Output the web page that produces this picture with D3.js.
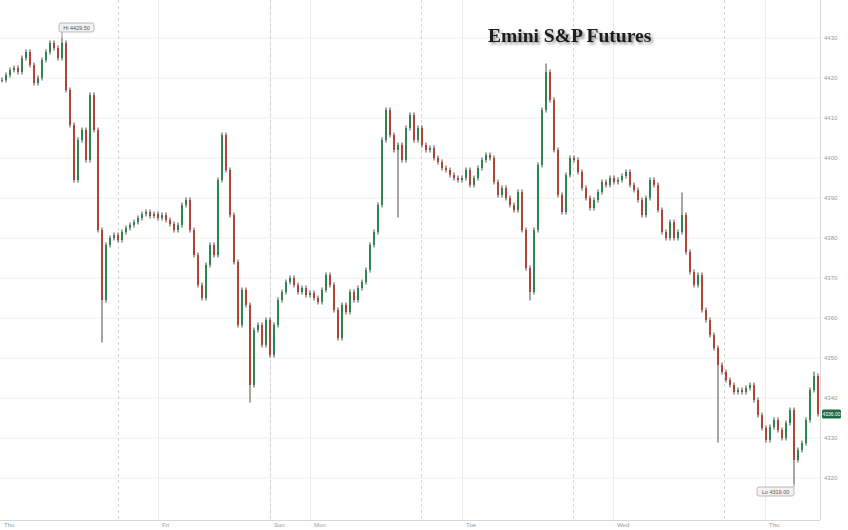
<!DOCTYPE html>
<html><head><meta charset="utf-8">
<script src="https://cdn.jsdelivr.net/npm/d3@7"></script>
<style>
html,body{margin:0;padding:0;background:#fff;}
svg{display:block;}
</style></head>
<body>
<svg id="chart" width="848" height="530"></svg>
<script>
// ---- data ----
const dayLabels = ["Thu","Fri","Sun","Mon","Tue","Wed","Thu"];
const dayPos = [0, 39.5, 67.5, 77.5, 115.5, 153.25, 191.25];      // in candle-index units
const sessionPos = [29.5, 67.5, 105.25, 143.25, 181];
const yTicks = [4320,4330,4340,4350,4360,4370,4380,4390,4400,4410,4420,4430];
const closes = [
4419.5,4420.75,4422,4422.5,4421.5,4425,4426.5,4423.25,4418.75,4420,
4424.5,4426.5,4428.75,4427.5,4425,4428.75,4417,4408.25,4394.5,4404.5,
4407,4399.5,4415.75,4407,4382,4364.5,4378.25,4380,4380.75,4379.5,
4381.5,4382.5,4383.25,4384,4385,4386,4386.5,4385.5,4386,4385,
4385.75,4384.5,4383.5,4382,4383.25,4388.25,4389.5,4382,4375.75,4368.25,
4365,4373.25,4378.25,4375.75,4394.5,4405.75,4397,4385.75,4374,4358.25,
4367,4363.25,4343.25,4357,4358.25,4353.25,4359.5,4350.75,4358.25,4364.5,
4366.5,4369,4370,4368.25,4366.5,4367.5,4365.75,4366.25,4365,4364,
4367,4370.75,4368.25,4362,4355,4363.25,4361.5,4366.5,4364.5,4367.5,
4369,4372,4378.25,4381.5,4388.25,4404.5,4412,4405.75,4402,4403.25,
4399.5,4407.5,4410.75,4404.5,4407.5,4403.25,4402,4402.5,4400,4399,
4397.5,4397,4395.75,4395,4394.5,4395,4397,4393.25,4395,4397.5,
4399.5,4400.75,4400,4394,4390.75,4392.5,4390,4388.25,4387,4391.5,
4382,4372.5,4366.5,4382,4398.25,4412,4421.5,4414.5,4402,4390.75,
4386.5,4395.75,4400,4399.5,4396.5,4392.5,4390,4387.5,4389.5,4391.5,
4394,4393.25,4395,4394,4394.5,4395.5,4396.5,4393.25,4392,4389.5,
4385.75,4390,4394.5,4393.25,4387,4381.5,4380,4384,4380,4381.5,
4385.75,4376.5,4371.5,4368.25,4370.75,4362,4359.5,4355.75,4352.5,4348.25,
4346.5,4344.5,4343.25,4341.5,4342,4341.5,4342.5,4343.25,4339.5,4335.75,
4332.5,4329.5,4332.75,4334.5,4332,4330,4333.75,4337,4324.5,4327,
4328.75,4334.5,4342,4345.5,4336
];
const spikeIdx = [15, 25, 62, 99, 132, 136, 170, 179, 198, 203];
const spikeVal = [4429.5, 4354.5, 4339.5, 4385.75, 4365, 4423, 4390.75, 4329.5, 4319, 4346];
const hiIdx = 15, hiText = "Hi 4429.50";
const loIdx = 198, loText = "Lo 4319.00";
const lastText = "4336.00";

// ---- layout ----
const W = 848, H = 530;
const plotR = 820, plotB = 520;
const svg = d3.select("#chart");
const x = d3.scaleLinear().domain([0, closes.length]).range([0, plotR]);
const y = d3.scaleLinear().domain([4309.5, 4439.5]).range([plotB, 0]);

svg.append("rect").attr("width", W).attr("height", H).attr("fill", "#fff");

// horizontal grid
svg.append("g").selectAll("line").data(yTicks).join("line")
  .attr("x1", 0).attr("x2", plotR).attr("y1", d => y(d)).attr("y2", d => y(d))
  .attr("stroke", "#f0f0f0").attr("stroke-width", 1);

// day gridlines (solid faint)
svg.append("g").selectAll("line").data(dayPos.slice(1)).join("line")
  .attr("x1", d => Math.round(x(d)) + 0.5).attr("x2", d => Math.round(x(d)) + 0.5)
  .attr("y1", 0).attr("y2", plotB)
  .attr("stroke", "#ececec").attr("stroke-width", 1);

// session gridlines (dashed)
svg.append("g").selectAll("line").data(sessionPos).join("line")
  .attr("x1", d => Math.round(x(d)) + 0.5).attr("x2", d => Math.round(x(d)) + 0.5)
  .attr("y1", 0).attr("y2", plotB)
  .attr("stroke", "#d4d4d4").attr("stroke-width", 1).attr("stroke-dasharray", "3,3");

// plot border right & bottom
svg.append("line").attr("x1", plotR + 0.5).attr("x2", plotR + 0.5).attr("y1", 0).attr("y2", plotB)
  .attr("stroke", "#d8d8d8");
svg.append("line").attr("x1", 0).attr("x2", plotR).attr("y1", plotB + 0.5).attr("y2", plotB + 0.5)
  .attr("stroke", "#d8d8d8");

// y axis (right)
const yAxis = d3.axisRight(y).tickValues(yTicks).tickSize(0).tickPadding(4).tickFormat(d3.format("d"));
const ya = svg.append("g").attr("transform", `translate(${plotR},0)`).call(yAxis);
ya.select(".domain").remove();
ya.selectAll("text").attr("fill", "#9a9a9a").attr("font-size", 6).attr("font-family", "Arial, Liberation Sans, sans-serif");

// x axis labels
svg.append("g").selectAll("text").data(dayLabels).join("text")
  .attr("x", (d, i) => x(dayPos[i]) + 4).attr("y", plotB + 7)
  .attr("font-size", 6).attr("fill", "#9a9a9a").attr("font-family", "Arial, Liberation Sans, sans-serif")
  .text(d => d);

// candles
const candles = closes.map((c, i) => {
  const o = i === 0 ? c : closes[i - 1];
  let hi = Math.max(o, c), lo = Math.min(o, c);
  const k = spikeIdx.indexOf(i);
  if (k >= 0) { hi = Math.max(hi, spikeVal[k]); lo = Math.min(lo, spikeVal[k]); }
  return {i, o, c, hi, lo};
});
const bw = 2;
const cg = svg.append("g");
cg.selectAll("line").data(candles).join("line")
  .attr("x1", d => x(d.i + 0.5)).attr("x2", d => x(d.i + 0.5))
  .attr("y1", d => y(d.hi) - 2.5).attr("y2", d => y(d.lo) + 2.5)
  .attr("stroke", "#3d3530").attr("stroke-width", 0.9);
cg.selectAll("rect").data(candles).join("rect")
  .attr("x", d => x(d.i + 0.5) - bw / 2).attr("width", bw)
  .attr("y", d => y(Math.max(d.o, d.c)))
  .attr("height", d => Math.max(1, Math.abs(y(d.o) - y(d.c))))
  .attr("fill", d => d.c >= d.o ? "#2f8452" : "#b24336");

// Hi label
const hiX = x(hiIdx + 0.5), hiY = y(spikeVal[spikeIdx.indexOf(hiIdx)]) - 2.5;
svg.append("line").attr("x1", hiX).attr("x2", hiX).attr("y1", hiY).attr("y2", 32).attr("stroke", "#999");
svg.append("rect").attr("x", hiX - 3).attr("y", 23).attr("width", 35).attr("height", 9).attr("rx", 2)
  .attr("fill", "#f2f2f2").attr("stroke", "#aaa").attr("stroke-width", 0.8);
svg.append("text").attr("x", hiX - 3 + 17.5).attr("y", 29.8).attr("text-anchor", "middle")
  .attr("font-size", 5.5).attr("fill", "#555").attr("font-family", "Arial, Liberation Sans, sans-serif").text(hiText);

// Lo label
const loX = x(loIdx + 0.5), loY = y(spikeVal[spikeIdx.indexOf(loIdx)]) + 2.5;
svg.append("line").attr("x1", loX).attr("x2", loX).attr("y1", loY).attr("y2", 487).attr("stroke", "#999");
svg.append("rect").attr("x", loX - 37).attr("y", 487).attr("width", 37).attr("height", 9).attr("rx", 2)
  .attr("fill", "#f2f2f2").attr("stroke", "#aaa").attr("stroke-width", 0.8);
svg.append("text").attr("x", loX - 18.5).attr("y", 493.8).attr("text-anchor", "middle")
  .attr("font-size", 5.5).attr("fill", "#555").attr("font-family", "Arial, Liberation Sans, sans-serif").text(loText);

// last price tag
const lastY = y(closes[closes.length - 1]);
svg.append("rect").attr("x", plotR + 2).attr("y", lastY - 4.5).attr("width", 19).attr("height", 9).attr("rx", 1.5)
  .attr("fill", "#1e6a44");
svg.append("text").attr("x", plotR + 11.5).attr("y", lastY + 2).attr("text-anchor", "middle")
  .attr("font-size", 5).attr("fill", "#fff").attr("font-family", "Arial, Liberation Sans, sans-serif").text(lastText);

// title with shadow
const defs = svg.append("defs");
const f = defs.append("filter").attr("id", "sh").attr("x", "-10%").attr("y", "-30%").attr("width", "130%").attr("height", "180%");
f.append("feDropShadow").attr("dx", 2).attr("dy", 2).attr("stdDeviation", 1.5).attr("flood-color", "#000").attr("flood-opacity", 0.45);
svg.append("text").attr("x", 488).attr("y", 42)
  .attr("font-family", "Liberation Serif, Times New Roman, serif").attr("font-weight", "bold")
  .attr("font-size", 19.5).attr("fill", "#1a1a1a").attr("filter", "url(#sh)")
  .text("Emini S&P Futures");
</script>
</body></html>
